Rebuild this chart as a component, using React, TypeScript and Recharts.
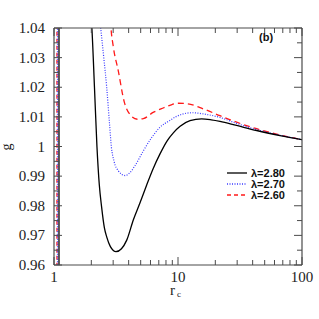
import { Line, LineChart, XAxis, YAxis } from "recharts";

// r_c samples and g values, one pair of arrays per lambda
const blackRc = [1.97, 2.02, 2.12, 2.22, 2.32, 2.42, 2.55, 2.66, 2.85, 3.16, 3.5, 3.86, 4.36, 4.94, 5.59, 6.3, 7.16, 8.2, 9.17, 10.4, 12.5, 15.5, 18.5, 21.8, 29.7, 43.1, 66.5, 100];
const blackG = [1.046, 1.04, 1.02, 1.0, 0.987, 0.9796, 0.9725, 0.9695, 0.9662, 0.9645, 0.9655, 0.9684, 0.9752, 0.981, 0.987, 0.9925, 0.9975, 1.002, 1.0046, 1.0068, 1.0087, 1.0093, 1.009, 1.0085, 1.0071, 1.0054, 1.0037, 1.0023];

const blueRc = [2.3, 2.38, 2.52, 2.66, 2.8, 2.9, 3.05, 3.3, 3.74, 4.1, 4.5, 5.25, 6.13, 7.16, 8.6, 9.77, 11, 13, 16, 21.8, 29.7, 43.1, 66.5, 100];
const blueG = [1.046, 1.04, 1.03, 1.02, 1.008, 1.0, 0.995, 0.9918, 0.9902, 0.9912, 0.9935, 0.9985, 1.003, 1.0065, 1.0088, 1.0102, 1.011, 1.0114, 1.011, 1.0098, 1.0078, 1.0057, 1.0038, 1.0023];

const redRc = [2.82, 2.88, 3.0, 3.3, 3.69, 4.1, 4.7, 5.25, 6.3, 7.6, 8.6, 10, 12, 16, 21.8, 29.7, 43.1, 66.5, 100];
const redG = [1.046, 1.04, 1.034, 1.0255, 1.015, 1.0108, 1.0092, 1.0094, 1.0115, 1.013, 1.0139, 1.0146, 1.0144, 1.0127, 1.0104, 1.0082, 1.006, 1.0039, 1.0023];

// near-vertical branches close to r_c = 1
const blackPole = 1.097;
const bluePole = 1.067;
const redPole = 1.057;
const poleG = [0.95, 1.05];

const xMajor = [1, 10, 100];
const xMinor = [2, 3, 4, 5, 6, 7, 8, 9, 20, 30, 40, 50, 60, 70, 80, 90];
const yTicks = [0.96, 0.965, 0.97, 0.975, 0.98, 0.985, 0.99, 0.995, 1.0, 1.005, 1.01, 1.015, 1.02, 1.025, 1.03, 1.035, 1.04];
const yLabels = ["0.96", "", "0.97", "", "0.98", "", "0.99", "", "1", "", "1.01", "", "1.02", "", "1.03", "", "1.04"];

const legendNames = ["λ=2.80", "λ=2.70", "λ=2.60"];

const toPoints = (xs: number[], ys: number[]) => xs.map((x, i) => ({ x, y: ys[i] }));
const pole = (x: number) => poleG.map((y) => ({ x, y }));

const blackData = toPoints(blackRc, blackG);
const blueData = toPoints(blueRc, blueG);
const redData = toPoints(redRc, redG);

const AXIS = "#4a4a4a";
const SERIF = "Liberation Serif, Times New Roman, serif";
const SANS = "Liberation Sans, Arial, sans-serif";
const BLUE = "#3a3aff";
const RED = "#ff1a1a";

const xTicks = [...xMajor, ...xMinor].sort((a, b) => a - b);

function XTick({ x, y, payload, top }: any) {
  const major = xMajor.includes(payload.value);
  const len = major ? 8 : 5;
  const dir = top ? 1 : -1;
  return (
    <g>
      <line x1={x} x2={x} y1={y} y2={y + dir * len} stroke={AXIS} strokeWidth={1} />
      {!top && major && (
        <text x={x} y={y + 17} textAnchor="middle" style={{ fontFamily: SERIF, fontSize: 15 }} fill="#222">
          {String(payload.value)}
        </text>
      )}
    </g>
  );
}

function YTick({ x, y, payload, index, right }: any) {
  const label = yLabels[index] ?? "";
  const major = label !== "";
  const len = major ? 8 : 5;
  const dir = right ? -1 : 1;
  return (
    <g>
      <line x1={x} x2={x + dir * len} y1={y} y2={y} stroke={AXIS} strokeWidth={1} />
      {!right && major && (
        <text x={x - 9} y={y + 5} textAnchor="end" style={{ fontFamily: SERIF, fontSize: 15 }} fill="#222">
          {label}
        </text>
      )}
    </g>
  );
}

function LegendBox() {
  const styles = [
    { stroke: "#000", dash: undefined as string | undefined },
    { stroke: BLUE, dash: "1 1.5" },
    { stroke: RED, dash: "4 3" },
  ];
  return (
    <div style={{ position: "absolute", left: 226, top: 168 }}>
      {legendNames.map((name, i) => (
        <div key={name} style={{ display: "flex", alignItems: "center", height: 10.7 }}>
          <svg width={22} height={8}>
            <line x1={1} x2={21} y1={4} y2={4} stroke={styles[i].stroke} strokeWidth={1.3} strokeDasharray={styles[i].dash} />
          </svg>
          <span style={{ marginLeft: 3, fontFamily: SANS, fontWeight: 700, fontSize: 11, color: "#111", lineHeight: "10px" }}>
            {name}
          </span>
        </div>
      ))}
    </div>
  );
}

export default function App() {
  return (
    <div style={{ position: "absolute", left: 0, top: 0, width: 319, height: 319, background: "#fff" }}>
      <LineChart width={319} height={319} margin={{ top: 0, right: 0, bottom: 0, left: 0 }}>
        <XAxis
          xAxisId="b"
          dataKey="x"
          type="number"
          scale="log"
          domain={[1, 100]}
          allowDataOverflow
          ticks={xTicks}
          interval={0}
          height={54}
          tickSize={0}
          tickMargin={0}
          tickLine={false}
          axisLine={{ stroke: AXIS, strokeWidth: 1.2 }}
          tick={(p: any) => <XTick {...p} />}
        />
        <XAxis
          xAxisId="t"
          orientation="top"
          dataKey="x"
          type="number"
          scale="log"
          domain={[1, 100]}
          allowDataOverflow
          ticks={xTicks}
          interval={0}
          height={28}
          tickSize={0}
          tickMargin={0}
          tickLine={false}
          axisLine={{ stroke: AXIS, strokeWidth: 1.2 }}
          tick={(p: any) => <XTick {...p} top />}
        />
        <YAxis
          yAxisId="l"
          type="number"
          domain={[0.96, 1.04]}
          allowDataOverflow
          ticks={yTicks}
          interval={0}
          width={54}
          tickSize={0}
          tickMargin={0}
          tickLine={false}
          axisLine={{ stroke: AXIS, strokeWidth: 1.2 }}
          tick={(p: any) => <YTick {...p} />}
        />
        <YAxis
          yAxisId="r"
          orientation="right"
          type="number"
          domain={[0.96, 1.04]}
          allowDataOverflow
          ticks={yTicks}
          interval={0}
          width={17}
          tickSize={0}
          tickMargin={0}
          tickLine={false}
          axisLine={{ stroke: AXIS, strokeWidth: 1.2 }}
          tick={(p: any) => <YTick {...p} right />}
        />
        <Line xAxisId="b" yAxisId="l" data={pole(redPole)} dataKey="y" type="linear" stroke={RED} strokeWidth={1.3} strokeDasharray="4 3" dot={false} activeDot={false} isAnimationActive={false} />
        <Line xAxisId="b" yAxisId="l" data={pole(bluePole)} dataKey="y" type="linear" stroke={BLUE} strokeWidth={1.2} strokeDasharray="1 1.5" dot={false} activeDot={false} isAnimationActive={false} />
        <Line xAxisId="b" yAxisId="l" data={pole(blackPole)} dataKey="y" type="linear" stroke="#000" strokeWidth={1.3} dot={false} activeDot={false} isAnimationActive={false} />
        <Line xAxisId="b" yAxisId="l" data={redData} dataKey="y" type="monotone" stroke={RED} strokeWidth={1.3} strokeDasharray="6 4" dot={false} activeDot={false} isAnimationActive={false} />
        <Line xAxisId="b" yAxisId="l" data={blueData} dataKey="y" type="monotone" stroke={BLUE} strokeWidth={1.2} strokeDasharray="1 1.5" dot={false} activeDot={false} isAnimationActive={false} />
        <Line xAxisId="b" yAxisId="l" data={blackData} dataKey="y" type="monotone" stroke="#000" strokeWidth={1.3} dot={false} activeDot={false} isAnimationActive={false} />
      </LineChart>
      <div style={{ position: "absolute", left: 259, top: 31, fontFamily: SANS, fontWeight: 700, fontSize: 11, color: "#111" }}>(b)</div>
      <div
        style={{
          position: "absolute",
          left: 3,
          top: 139,
          display: "inline-block",
          fontFamily: SERIF,
          fontSize: 14,
          lineHeight: "16px",
          color: "#222",
          transform: "rotate(-90deg)",
        }}
      >
        g
      </div>
      <div style={{ position: "absolute", left: 170, top: 286, fontFamily: SERIF, fontSize: 15, lineHeight: "8px", color: "#222" }}>r</div>
      <div style={{ position: "absolute", left: 177, top: 290, fontFamily: SERIF, fontSize: 9, lineHeight: "9px", color: "#222" }}>c</div>
      <LegendBox />
    </div>
  );
}
